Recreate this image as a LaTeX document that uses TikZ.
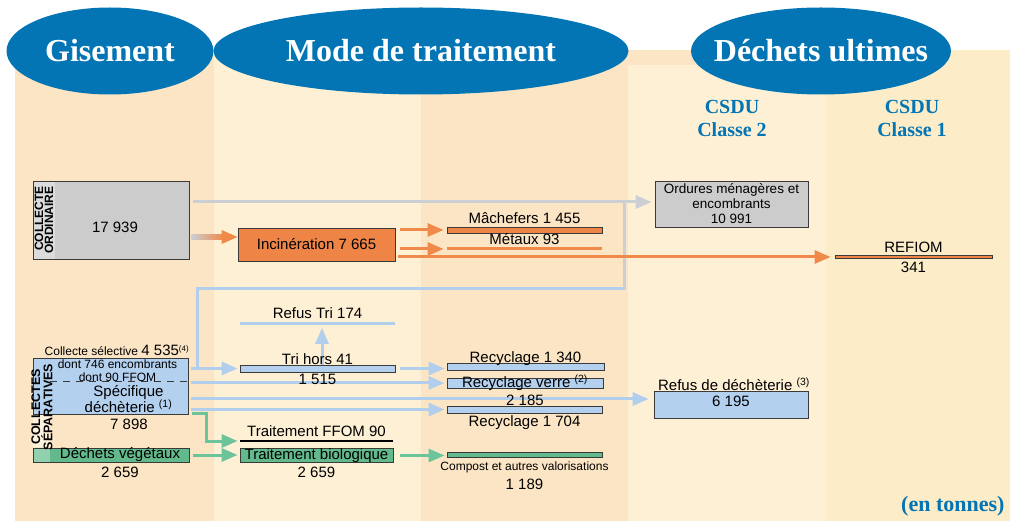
\documentclass[tikz,border=0pt]{standalone}
\usepackage{fontspec}
\setmainfont{Liberation Sans}
\newfontfamily\headfont{Liberation Serif}
\usetikzlibrary{arrows.meta, positioning, shapes.geometric}

\definecolor{headblue}{HTML}{0375B4}
\definecolor{colpeach}{HTML}{FCE5C5}
\definecolor{colcream}{HTML}{FEF0D5}
\definecolor{colsand}{HTML}{FCECC8}
\definecolor{boxgray}{HTML}{CCCCCC}
\definecolor{stripgray}{HTML}{DCDCDC}
\definecolor{lnkgray}{HTML}{CBCED3}
\definecolor{incorange}{HTML}{EE8547}
\definecolor{lnkorange}{HTML}{F08A4B}
\definecolor{boxblue}{HTML}{B3D0EE}
\definecolor{lnkblue}{HTML}{B1CEEC}
\definecolor{boxgreen}{HTML}{62B98C}
\definecolor{stripgreen}{HTML}{92D1B0}
\definecolor{lnkgreen}{HTML}{6CC49A}
\definecolor{stripcream}{HTML}{FDF2DC}
\definecolor{bardark}{HTML}{3A3A3A}

\tikzset{
  flow arrow/.style={
    >={Triangle[length=16pt,width=13pt]}, % arrow tip style
    line width=3pt,                        % connector thickness
  },
  headell/.style={ellipse, fill=headblue, inner sep=0pt, minimum height=87pt},
  headtxt/.style={text=white, inner sep=0pt, font=\headfont\bfseries\fontsize{32}{32}\selectfont},
  csdu/.style={align=center, text=headblue, inner sep=0pt, font=\headfont\bfseries\fontsize{20}{23}\selectfont},
  box/.style={draw=bardark, line width=0.8pt, inner sep=0pt},
  flowbar/.style={box, minimum width=155pt},
  lbl/.style={inner sep=0pt, font=\fontsize{15}{16}\selectfont},
  smalllbl/.style={inner sep=0pt, font=\fontsize{12}{13}\selectfont},
  vlbl/.style={inner sep=0pt, rotate=90, font=\bfseries\fontsize{12}{10}\selectfont},
}

\begin{document}
\begin{tikzpicture}[x=1pt, y=-1pt, flow arrow]
  \useasboundingbox (0,0) rectangle (1010,521);

  % Columns
  \fill[colpeach] (15,55) rectangle (214,521);
  \fill[colcream] (214,55) rectangle (421,521);
  \fill[colpeach] (421,55) rectangle (628,521);
  \fill[colpeach] (628,50) rectangle (826,65);
  \fill[colcream] (628,65) rectangle (826,521);
  \fill[colsand] (826,50) rectangle (1010,521);

  % Headers
  \node[headell, minimum width=207pt, label={[headtxt]center:Gisement}] (gis) at (110,51) {};
  \node[headell, minimum width=415pt, label={[headtxt]center:Mode de traitement}] (mode) at (421,51) {};
  \node[headell, minimum width=260pt, label={[headtxt]center:Déchets ultimes}] (ult) at (821,51) {};
  \node[csdu] (cl2) at (732,118) {CSDU\\Classe 2};
  \node[csdu] (cl1) at (912,118) {CSDU\\Classe 1};
  \node[headtxt, text=headblue, font=\headfont\bfseries\fontsize{22}{22}\selectfont, anchor=east] (unit) at (1006,506) {(en tonnes)};

  % Boxes
  \node[box, fill=boxgray, minimum width=156pt, minimum height=78pt,
    path picture={\fill[stripgray] (path picture bounding box.north west) rectangle ([xshift=22pt]path picture bounding box.south west);}] (ordi) at (111,220) {};
  \node[box, fill=incorange, lbl, minimum width=157pt, minimum height=33pt] (inc) at (316.5,244.5) {Incinération 7 665};
  \node[box, fill=boxgray, align=center, minimum width=153pt, minimum height=46pt,
    font=\fontsize{13.5}{15}\selectfont] (omr) at (731.5,204) {Ordures ménagères et\\encombrants\\10 991};
  \node[flowbar, fill=incorange, minimum height=6pt] (mach) at (524.5,230) {};
  \node[flowbar, draw=none, fill=lnkorange, minimum height=3pt] (metx) at (524.5,249) {};
  \node[flowbar, fill=incorange, minimum width=157pt, minimum height=3pt] (refiom) at (913.5,257) {};

  \node[box, fill=boxblue, minimum width=155pt, minimum height=56pt] (sel) at (110.5,386) {};
  \node[box, fill=boxgreen, minimum width=156pt, minimum height=14pt,
    path picture={\fill[stripgreen] (path picture bounding box.north west) rectangle ([xshift=17pt]path picture bounding box.south west);}] (vege) at (111,455) {};
  \fill[stripcream] ([shift={(0.4pt,-0.4pt)}]sel.south west) rectangle ([shift={(17pt,0.4pt)}]vege.north west);
  \draw[bardark, line width=0.8pt, dash pattern=on 7pt off 6pt] ([xshift=17pt]sel.west |- 0,381) -- (sel.east |- 0,381);

  \node[flowbar, fill=boxblue, minimum height=7pt] (tri) at (317.5,368.5) {};
  \node[flowbar, draw=none, fill=lnkblue, minimum height=3pt] (rtri) at (317.5,324) {};
  \node[flowbar, fill=boxblue, minimum width=157pt, minimum height=7pt] (rec1) at (525.5,366.5) {};
  \node[flowbar, fill=boxblue, minimum width=156pt, minimum height=10pt] (verre) at (525,383) {};
  \node[flowbar, fill=boxblue, minimum height=7pt] (rec2) at (524.5,409.5) {};
  \node[box, fill=boxblue, minimum width=154pt, minimum height=27pt] (rdech) at (731,404.5) {};

  \node[flowbar, draw=none, fill=black, minimum width=153pt, minimum height=2pt] (ffom) at (316.5,441) {};
  \node[box, fill=boxgreen, lbl, minimum width=153pt, minimum height=13pt] (bio) at (316.5,455.5) {Traitement biologique};
  \node[flowbar, fill=boxgreen, minimum height=5pt] (comp) at (524.5,454.5) {};

  % Connectors
  \coordinate (omrin) at ([yshift=2pt]omr.west);
  \coordinate (incin) at ([yshift=7.5pt]inc.west);
  \coordinate (incout) at (ordi.east |- incin);
  \coordinate (selout) at (sel.east |- tri.west);
  \coordinate (rdin) at ([yshift=5.5pt]rdech.west);
  \coordinate (jog) at (624,289);

  \draw[lnkblue] ([xshift=9pt]selout) |- (jog);
  \draw[lnkgray, line cap=rect] (jog) -- (jog |- omrin);
  \draw[lnkgray, ->, shorten <=4pt, shorten >=3pt] (ordi.east |- omrin) -- (omrin);
  \shade[left color=lnkgray, right color=lnkorange] ([shift={(2pt,2.25pt)}]incout) rectangle ([shift={(-15pt,-2.25pt)}]incin);
  \fill[lnkorange] (incin) -- ++(-16,-7) -- ++(0,14) -- cycle;

  \draw[lnkorange, ->, shorten <=5pt, shorten >=3pt] (inc.east |- mach.west) -- (mach.west);
  \draw[lnkorange, ->, shorten <=5pt, shorten >=3pt] (inc.east |- metx.west) -- (metx.west);
  \draw[lnkorange, ->, shorten <=3pt, shorten >=4pt] (inc.east |- refiom.west) -- (refiom.west);

  \draw[lnkblue, ->, shorten <=3pt, shorten >=2pt] (selout) -- (tri.west);
  \draw[lnkblue, ->, shorten >=2pt] ([xshift=4.5pt]tri.north) -- ([xshift=4.5pt]rtri.south);
  \draw[lnkblue, ->, shorten <=5pt, shorten >=2pt] (tri.east) -- (tri.east -| rec1.west);
  \draw[lnkblue, ->, shorten <=3pt, shorten >=2pt] (sel.east |- verre.west) -- (verre.west);
  \draw[lnkblue, ->, shorten <=3pt, shorten >=5pt] (sel.east |- rdin) -- (rdin);
  \draw[lnkblue, ->, shorten <=3pt, shorten >=2pt] (sel.east |- rec2.west) -- (rec2.west);

  \draw[lnkgreen, ->, shorten >=2pt] ([shift={(4pt,1pt)}]sel.south east) -| ([xshift=-33pt]ffom.west) -- (ffom.west);
  \draw[lnkgreen, ->, shorten <=4pt, shorten >=2pt] (vege.east) -- (vege.east -| bio.west);
  \draw[lnkgreen, ->, shorten <=7pt, shorten >=2pt] (bio.east) -- (bio.east -| comp.west);

  % Labels
  \node[vlbl, align=right] (ordicap) at (44,220) {COLLECTE\\ORDINAIRE};
  \node[lbl] (ordival) at (115,227.5) {17 939};
  \node[lbl, above=1pt of mach] (machlbl) {Mâchefers 1 455};
  \node[lbl, above=1pt of metx] (metlbl) {Métaux 93};
  \node[lbl, above=1pt of refiom] (reflbl) {REFIOM};
  \node[lbl, below=2pt of refiom] (refval) {341};

  \node[vlbl, align=center, font=\bfseries\fontsize{12.5}{9.5}\selectfont] (selcap) at (42,407) {COLLECTES\\SÉPARATIVES};
  \node[smalllbl, anchor=south] (selhead) at (117,357.5) {Collecte sélective {\fontsize{15}{16}\selectfont 4 535}\textsuperscript{(4)}};
  \node[smalllbl] (enc) at (117.5,364) {dont 746 encombrants};
  \node[smalllbl] (ffomin) at (117.5,377) {dont 90 FFOM};
  \node[lbl, align=center] (spec) at (128.5,399) {Spécifique\\déchèterie \textsuperscript{(1)}};
  \node[lbl] (selval) at (129,424) {7 898};
  \node[lbl] (vegelbl) at (120,455) {Déchets végétaux};
  \node[lbl, below=3pt of vege.south -| vegelbl] (vegeval) {2 659};

  \node[lbl, anchor=south] (trilbl) at ([yshift=-1.5pt]tri.north) {Tri hors 41};
  \node[lbl, below=0.5pt of tri] (trival) {1 515};
  \node[lbl, above=1.5pt of rtri] (rtrilbl) {Refus Tri 174};
  \node[lbl, anchor=base] (rec1lbl) at (rec1.north) {Recyclage 1 340};
  \node[lbl] (verrelbl) at (verre.center) {Recyclage verre \textsuperscript{(2)}};
  \node[lbl, below=5pt of verre] (verreval) {2 185};
  \node[lbl, below=1pt of rec2] (rec2lbl) {Recyclage 1 704};
  \node[lbl, anchor=base] (rdlbl) at ([xshift=3pt]rdech.north) {Refus de déchèterie \textsuperscript{(3)}};
  \node[lbl] (rdval) at ([yshift=3.5pt]rdech.center) {6 195};

  \node[lbl, above=1.5pt of ffom] (ffomlbl) {Traitement FFOM 90};
  \node[lbl, below=3pt of bio] (bioval) {2 659};
  \node[smalllbl, below=3pt of comp] (complbl) {Compost et autres valorisations};
  \node[lbl, below=3pt of complbl] (compval) {1 189};
\end{tikzpicture}
\end{document}
